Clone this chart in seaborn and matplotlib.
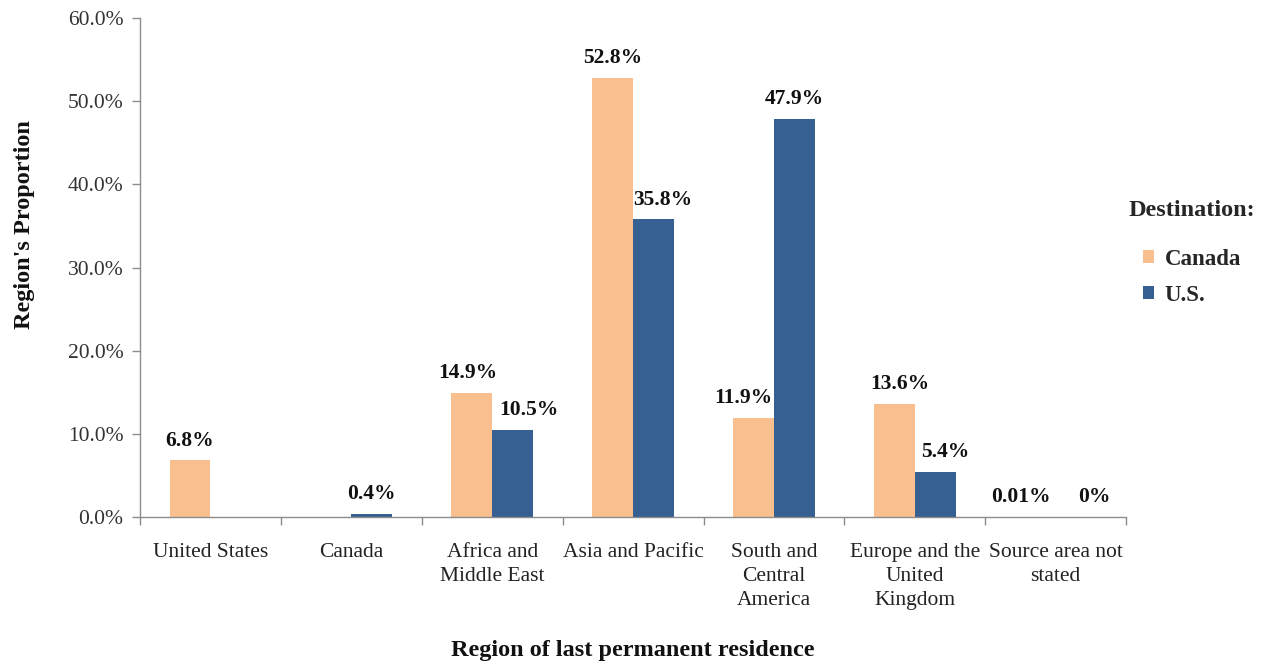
import matplotlib
matplotlib.use("Agg")
import matplotlib.pyplot as plt
import numpy as np
import pandas as pd
import seaborn as sns
from matplotlib.patches import Patch
from matplotlib.ticker import FuncFormatter, FixedLocator

# Share of immigrants by region of last permanent residence
regions = [
    "United States", "Canada", "Africa and\nMiddle East", "Asia and Pacific",
    "South and\nCentral\nAmerica", "Europe and the\nUnited\nKingdom",
    "Source area not\nstated",
]
canada_vals = [6.8, 0.0, 14.9, 52.8, 11.9, 13.6, 0.01]
us_vals = [0.0, 0.4, 10.5, 35.8, 47.9, 5.4, 0.0]
canada_labels = ["6.8%", None, "14.9%", "52.8%", "11.9%", "13.6%", "0.01%"]
us_labels = [None, "0.4%", "10.5%", "35.8%", "47.9%", "5.4%", "0%"]
destinations = ["Canada", "U.S."]
colors = ["#F9BF8F", "#376092"]

df = pd.DataFrame({
    "region": regions * 2,
    "destination": ["Canada"] * len(regions) + ["U.S."] * len(regions),
    "share": canada_vals + us_vals,
})

sns.set_theme(style="white")
plt.rcParams["font.family"] = ["Liberation Serif", "DejaVu Serif"]

fig = plt.figure(figsize=(12.65, 6.67), dpi=100)
ax = fig.add_axes([0.1107, 0.2249, 0.7795, 0.7481])

sns.barplot(data=df, x="region", y="share", hue="destination",
            order=regions, hue_order=destinations, palette=colors,
            width=0.58, saturation=1, linewidth=0, edgecolor="none",
            ax=ax, legend=False)

# value labels above each bar, nudged sideways so neighbours stay apart
label_nudges = [
    [0, 0, -3, 0, -7, 4, -10],   # Canada labels (points)
    [0, 0, 12, 7, 0, 7, 13],     # U.S. labels (points)
]
for container, labels, nudges in zip(ax.containers, [canada_labels, us_labels],
                                     label_nudges):
    for bar, lab, dx in zip(container, labels, nudges):
        if lab is None:
            continue
        x = bar.get_x() + bar.get_width() / 2
        y = bar.get_height()
        ax.annotate(lab, (x, y), xytext=(dx, 7), textcoords="offset points",
                    ha="center", va="bottom", fontsize=15.5, fontweight="bold",
                    color="#111111")

ax.set_ylim(0, 60)
ax.set_xlim(-0.5, len(regions) - 0.5)
ax.yaxis.set_major_locator(FixedLocator(np.arange(0, 61, 10)))
ax.yaxis.set_major_formatter(FuncFormatter(lambda v, p: f"{v:.1f}%"))

# category boundaries carry the x tick marks
ax.xaxis.set_minor_locator(FixedLocator(np.arange(-0.5, len(regions), 1.0)))
ax.tick_params(axis="x", which="major", length=0, pad=19, labelsize=15.5,
               colors="#222222")
ax.tick_params(axis="x", which="minor", length=6, width=1, color="#8c8c8c",
               bottom=True, direction="out")
ax.tick_params(axis="y", which="major", length=6, width=1, color="#8c8c8c",
               left=True, direction="out", labelsize=15.5, labelcolor="#333333",
               pad=6)
for lab in ax.get_xticklabels():
    lab.set_linespacing(1.33)
    lab.set_verticalalignment("top")

for side in ["top", "right"]:
    ax.spines[side].set_visible(False)
for side in ["left", "bottom"]:
    ax.spines[side].set_color("#8c8c8c")
    ax.spines[side].set_linewidth(1)

ax.set_xlabel("Region of last permanent residence", fontsize=17.5,
              fontweight="bold", labelpad=22, color="#111111")
ax.set_ylabel("Region's Proportion", fontsize=17.5, fontweight="bold",
              labelpad=24, color="#111111")
ax.yaxis.set_label_coords(-0.107, 0.587)
ax.yaxis.label.set_horizontalalignment("center")

handles = [Patch(facecolor=c, edgecolor="none") for c in colors]
leg = fig.legend(handles, destinations, title="Destination:",
                 loc="upper left", bbox_to_anchor=(0.876, 0.731),
                 frameon=False, prop={"weight": "bold", "size": 16.5},
                 title_fontproperties={"weight": "bold", "size": 17.5},
                 handlelength=0.5, handleheight=0.5, handletextpad=0.45,
                 labelspacing=0.65)
leg._legend_box.sep = 20

fig.savefig("out.png", dpi=100)
